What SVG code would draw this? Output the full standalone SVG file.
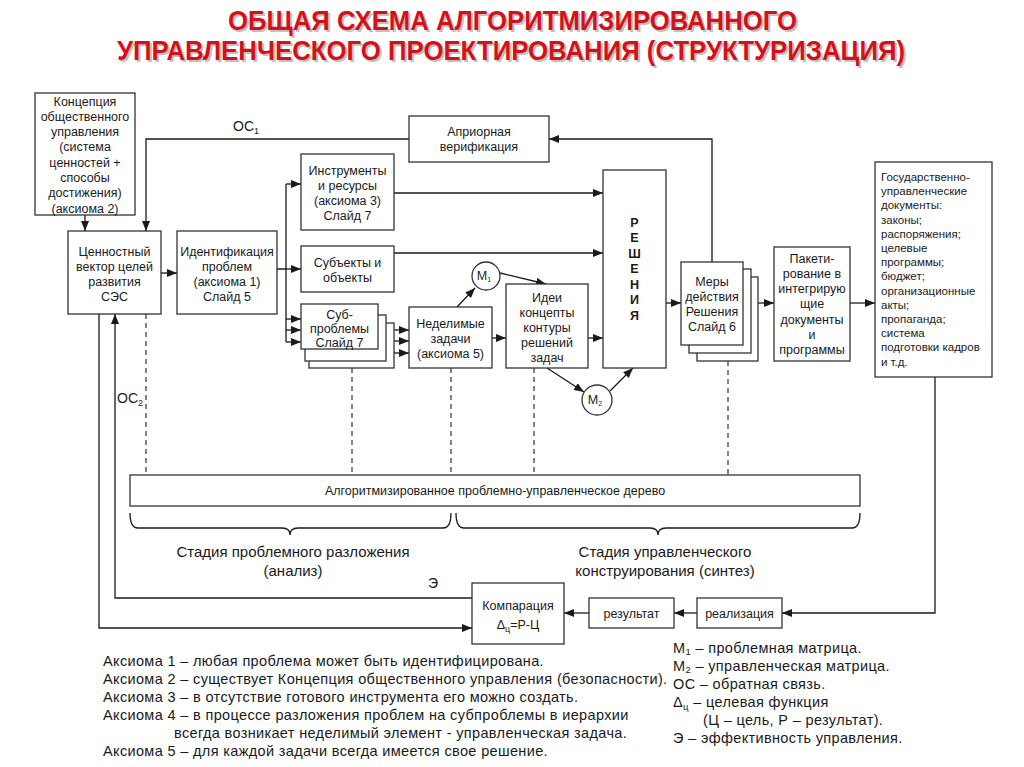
<svg xmlns="http://www.w3.org/2000/svg" width="1024" height="767" viewBox="0 0 1024 767">
<defs>
<marker id="arr" viewBox="0 0 10 8" refX="10" refY="4" markerWidth="10" markerHeight="8" markerUnits="userSpaceOnUse" orient="auto">
<path d="M0,0 L10,4 L0,8 Z" fill="#1a1a1a"/>
</marker>
<style>
.b{fill:#fff;stroke:#333;stroke-width:1.3}
.t{font-family:"Liberation Sans",Arial,sans-serif;font-size:12.5px;fill:#1a1a1a;text-anchor:middle}
.g{font-family:"Liberation Sans",Arial,sans-serif;font-size:11.5px;fill:#1a1a1a}
.c{fill:none;stroke:#1a1a1a;stroke-width:1.3}
.a{marker-end:url(#arr)}
.d{fill:none;stroke:#333;stroke-width:1.2;stroke-dasharray:5,4}
.l{font-family:"Liberation Sans",Arial,sans-serif;font-size:14px;fill:#1a1a1a}
.lg{font-family:"Liberation Sans",Arial,sans-serif;font-size:14.5px;letter-spacing:0.35px;fill:#1a1a1a}
.s{font-family:"Liberation Sans",Arial,sans-serif;font-size:15px;fill:#1a1a1a;text-anchor:middle}
.h{font-family:"Liberation Sans",Arial,sans-serif;font-weight:bold;font-size:28px;text-anchor:start}
</style>
</defs>
<rect width="1024" height="767" fill="#fff"/>

<g id="title">
<text class="h" x="230" y="32" fill="#999" opacity="0.6" textLength="569" lengthAdjust="spacingAndGlyphs">ОБЩАЯ СХЕМА АЛГОРИТМИЗИРОВАННОГО</text>
<text class="h" x="119" y="62" fill="#999" opacity="0.6" textLength="788" lengthAdjust="spacingAndGlyphs">УПРАВЛЕНЧЕСКОГО ПРОЕКТИРОВАНИЯ (СТРУКТУРИЗАЦИЯ)</text>
<text class="h" x="228" y="30" fill="#d41118" textLength="569" lengthAdjust="spacingAndGlyphs">ОБЩАЯ СХЕМА АЛГОРИТМИЗИРОВАННОГО</text>
<text class="h" x="117" y="60" fill="#d41118" textLength="788" lengthAdjust="spacingAndGlyphs">УПРАВЛЕНЧЕСКОГО ПРОЕКТИРОВАНИЯ (СТРУКТУРИЗАЦИЯ)</text>
</g>

<g id="connectors">
<path class="c a" d="M85 215 V231"/>
<path class="c a" d="M712 262 V139 H549"/>
<path class="c a" d="M409 139 H146 V231"/>
<path class="c a" d="M161 273 H177"/>
<path class="c" d="M277 269 H286 M286 184 V342"/>
<path class="c a" d="M286 184 H301"/>
<path class="c a" d="M286 269 H301"/>
<path class="c a" d="M286 319 H301"/>
<path class="c a" d="M286 330 H301"/>
<path class="c a" d="M286 342 H301"/>
<path class="c a" d="M394 330 H409"/>
<path class="c a" d="M394 341 H409"/>
<path class="c a" d="M394 353 H409"/>
<path class="c a" d="M394 193 H603"/>
<path class="c a" d="M394 253 H603"/>
<path class="c a" d="M457 307 L475 288"/>
<path class="c a" d="M500 273 L546 284"/>
<path class="c a" d="M492 338 H506"/>
<path class="c a" d="M588 338 H603"/>
<path class="c a" d="M547 368 L584 392"/>
<path class="c a" d="M610 391 L633 368"/>
<path class="c a" d="M666 303 H681"/>
<path class="c a" d="M758 303 H774"/>
<path class="c a" d="M850 303 H875"/>
<path class="c a" d="M935 377 V613 H782"/>
<path class="c a" d="M697 613 H674"/>
<path class="c a" d="M589 613 H564"/>
<path class="c a" d="M472 598 H115 V314"/>
<path class="c a" d="M99 314 V628 H472"/>
<path class="d" d="M146 314 V475"/>
<path class="d" d="M352 368 V475"/>
<path class="d" d="M451 368 V475"/>
<path class="d" d="M534 368 V475"/>
<path class="d" d="M728 361 V475"/>
<path class="c" d="M130 513 Q130 528 138 528 H282 Q290 528 290 535 Q290 528 298 528 H443 Q451 528 451 513"/>
<path class="c" d="M456 513 Q456 528 464 528 H650 Q658 528 658 535 Q658 528 666 528 H852 Q860 528 860 513"/>
<text class="l" x="233" y="131" font-size="13.5">OC<tspan font-size="9" dy="3">1</tspan></text>
<text class="l" x="117" y="403" font-size="13.5">OC<tspan font-size="9" dy="3">2</tspan></text>
<text class="l" x="428" y="588" font-size="13">Э</text>
</g>

<g id="n-koncepcia">
<rect class="b" x="35" y="93" width="100" height="122"/>
<text class="t"><tspan x="85" y="105.5">Концепция</tspan><tspan x="85" y="120.8">общественного</tspan><tspan x="85" y="136.1">управления</tspan><tspan x="85" y="151.4">(система</tspan><tspan x="85" y="166.7">ценностей +</tspan><tspan x="85" y="182">способы</tspan><tspan x="85" y="197.3">достижения)</tspan><tspan x="85" y="212.6">(аксиома 2)</tspan></text>
</g>

<g id="n-vektor">
<rect class="b" x="68" y="231" width="93" height="83"/>
<text class="t"><tspan x="114.5" y="256">Ценностный</tspan><tspan x="114.5" y="271">вектор целей</tspan><tspan x="114.5" y="286">развития</tspan><tspan x="114.5" y="301">СЭС</tspan></text>
</g>

<g id="n-ident">
<rect class="b" x="177" y="231" width="100" height="83"/>
<text class="t"><tspan x="227" y="256">Идентификация</tspan><tspan x="227" y="271">проблем</tspan><tspan x="227" y="286">(аксиома 1)</tspan><tspan x="227" y="301">Слайд 5</tspan></text>
</g>

<g id="n-aprior">
<rect class="b" x="409" y="116" width="140" height="46"/>
<text class="t" font-size="12"><tspan x="479" y="135.5">Априорная</tspan><tspan x="479" y="150.5">верификация</tspan></text>
</g>

<g id="n-instr">
<rect class="b" x="301" y="154" width="93" height="76"/>
<text class="t"><tspan x="347.5" y="174.5">Инструменты</tspan><tspan x="347.5" y="189.5">и ресурсы</tspan><tspan x="347.5" y="204.5">(аксиома 3)</tspan><tspan x="347.5" y="219.5">Слайд 7</tspan></text>
</g>

<g id="n-subj">
<rect class="b" x="301" y="246" width="93" height="46"/>
<text class="t"><tspan x="347.5" y="266.5">Субъекты и</tspan><tspan x="347.5" y="281.5">объекты</tspan></text>
</g>

<g id="n-subprob">
<rect class="b" x="309" y="323" width="85" height="45"/>
<rect class="b" x="305" y="315" width="81" height="46"/>
<rect class="b" x="301" y="304" width="77" height="45"/>
<text class="t"><tspan x="339.5" y="318.5">Суб-</tspan><tspan x="339.5" y="332.5">проблемы</tspan><tspan x="339.5" y="346.5">Слайд 7</tspan></text>
</g>

<g id="n-nedel">
<rect class="b" x="409" y="307" width="83" height="61"/>
<text class="t"><tspan x="450.5" y="327.5">Неделимые</tspan><tspan x="450.5" y="342.5">задачи</tspan><tspan x="450.5" y="357.5">(аксиома 5)</tspan></text>
</g>

<g id="n-m1">
<circle class="b" cx="486" cy="276" r="14"/>
<text class="t" font-size="10" x="484" y="280">М<tspan font-size="7" dy="2">1</tspan></text>
</g>

<g id="n-idei">
<rect class="b" x="506" y="284" width="82" height="84"/>
<text class="t"><tspan x="547" y="301.5">Идеи</tspan><tspan x="547" y="316.5">концепты</tspan><tspan x="547" y="331.5">контуры</tspan><tspan x="547" y="346.5">решений</tspan><tspan x="547" y="361.5">задач</tspan></text>
</g>

<g id="n-m2">
<circle class="b" cx="597" cy="400" r="15"/>
<text class="t" font-size="10" x="595" y="404">М<tspan font-size="7" dy="2">2</tspan></text>
</g>

<g id="n-resh">
<rect class="b" x="603" y="170" width="63" height="198"/>
<text class="t" font-weight="bold" font-size="12"><tspan x="634.5" y="226.5">Р</tspan><tspan x="634.5" y="242">Е</tspan><tspan x="634.5" y="257.5">Ш</tspan><tspan x="634.5" y="273">Е</tspan><tspan x="634.5" y="288.5">Н</tspan><tspan x="634.5" y="304">И</tspan><tspan x="634.5" y="319.5">Я</tspan></text>
</g>

<g id="n-mery">
<rect class="b" x="697" y="277" width="61" height="84"/>
<rect class="b" x="689" y="269" width="62" height="84"/>
<rect class="b" x="681" y="262" width="62" height="83"/>
<text class="t"><tspan x="712" y="286">Меры</tspan><tspan x="712" y="301">действия</tspan><tspan x="712" y="316">Решения</tspan><tspan x="712" y="331">Слайд 6</tspan></text>
</g>

<g id="n-paket">
<rect class="b" x="774" y="247" width="76" height="114"/>
<text class="t" font-size="12"><tspan x="812" y="262.5">Пакети-</tspan><tspan x="812" y="277.8">рование в</tspan><tspan x="812" y="293.1">интегрирую</tspan><tspan x="812" y="308.4">щие</tspan><tspan x="812" y="323.7">документы</tspan><tspan x="812" y="339">и</tspan><tspan x="812" y="354.3">программы</tspan></text>
</g>

<g id="n-gos">
<rect class="b" x="875" y="162" width="117" height="215"/>
<text class="g"><tspan x="881" y="181">Государственно-</tspan><tspan x="881" y="195.2">управленческие</tspan><tspan x="881" y="209.4">документы:</tspan><tspan x="881" y="223.6">законы;</tspan><tspan x="881" y="237.8">распоряжения;</tspan><tspan x="881" y="252">целевые</tspan><tspan x="881" y="266.2">программы;</tspan><tspan x="881" y="280.4">бюджет;</tspan><tspan x="881" y="294.6">организационные</tspan><tspan x="881" y="308.8">акты;</tspan><tspan x="881" y="323">пропаганда;</tspan><tspan x="881" y="337.2">система</tspan><tspan x="881" y="351.4">подготовки кадров</tspan><tspan x="881" y="365.6">и т.д.</tspan></text>
</g>

<g id="n-tree">
<rect class="b" x="130" y="475" width="730" height="31"/>
<text class="t" font-size="12" x="495" y="495">Алгоритмизированное проблемно-управленческое дерево</text>
</g>

<g id="stages">
<text class="s"><tspan x="293" y="557">Стадия проблемного разложения</tspan><tspan x="293" y="576">(анализ)</tspan></text>
<text class="s"><tspan x="665" y="557">Стадия управленческого</tspan><tspan x="665" y="576">конструирования (синтез)</tspan></text>
</g>

<g id="n-komp">
<rect class="b" x="472" y="583" width="92" height="61"/>
<text class="t" x="518" y="609.5">Компарация</text>
<text class="t" font-size="14" x="518" y="629">Δ<tspan font-size="9" dy="3">ц</tspan><tspan dy="-3">=Р-Ц</tspan></text>
</g>

<g id="n-rez">
<rect class="b" x="589" y="598" width="85" height="30"/>
<text class="t" x="631.5" y="617.5">результат</text>
</g>

<g id="n-real">
<rect class="b" x="697" y="598" width="85" height="30"/>
<text class="t" x="739.5" y="617.5">реализация</text>
</g>

<g id="legend">
<text class="lg"><tspan x="103" y="666">Аксиома 1 – любая проблема может быть идентифицирована.</tspan><tspan x="103" y="684">Аксиома 2 – существует Концепция общественного управления (безопасности).</tspan><tspan x="103" y="702">Аксиома 3 – в отсутствие готового инструмента его можно создать.</tspan><tspan x="103" y="720">Аксиома 4 – в процессе разложения проблем на субпроблемы в иерархии</tspan><tspan x="174" y="738">всегда возникает неделимый элемент - управленческая задача.</tspan><tspan x="103" y="756">Аксиома 5 – для каждой задачи всегда имеется свое решение.</tspan></text>
<text class="lg"><tspan x="673" y="653">М<tspan font-size="9.5" dy="2">1</tspan><tspan dy="-2"> – проблемная матрица.</tspan></tspan><tspan x="673" y="671">М<tspan font-size="9.5" dy="2">2</tspan><tspan dy="-2"> – управленческая матрица.</tspan></tspan><tspan x="673" y="689">ОС – обратная связь.</tspan><tspan x="673" y="707">Δ<tspan font-size="9.5" dy="3">ц</tspan><tspan dy="-3"> – целевая функция</tspan></tspan><tspan x="703" y="725">(Ц – цель, Р – результат).</tspan><tspan x="673" y="743">Э – эффективность управления.</tspan></text>
</g>
</svg>
